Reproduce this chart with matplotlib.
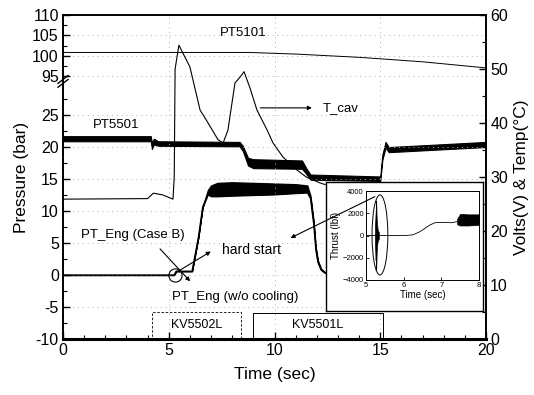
import numpy as np
import matplotlib.pyplot as plt
from matplotlib.patches import Ellipse

plt.rcParams['font.family'] = ['Liberation Sans', 'DejaVu Sans']

# ---- data ----
# PT5101 (left axis, upper part)
t_5101 = [0, 8.8, 11, 14, 17, 20]
p_5101 = [100.8, 100.8, 100.4, 99.6, 98.5, 97.0]

# PT5501 (left axis) - noisy band: lower / upper envelope
t_5501 = [0, 4.15, 4.2, 4.3, 4.5, 8.35, 8.5, 8.75, 9.0, 11.3, 11.5, 11.7, 15.0, 15.1, 15.25, 15.4, 16, 20]
lo_5501 = [20.9, 20.9, 19.7, 20.4, 20.2, 20.1, 19.4, 17.1, 16.7, 16.6, 15.8, 14.9, 14.7, 18.0, 19.9, 19.2, 19.3, 20.0]
hi_5501 = [21.7, 21.7, 20.7, 21.3, 20.9, 20.8, 20.2, 18.3, 18.1, 17.9, 16.7, 15.7, 15.4, 18.8, 20.8, 20.0, 20.1, 20.8]

# PT_Eng (left axis) - lower / upper envelope
t_eng = [0, 5.25, 5.35, 6.1, 6.4, 6.6, 6.85, 7.0, 7.3, 8.0, 9.0, 10.0, 11.0, 11.55, 11.7, 11.85, 11.95, 12.05, 12.2, 12.4]
lo_eng = [0, 0, 0.6, 0.6, 5.9, 10.6, 12.6, 12.3, 12.3, 12.4, 12.5, 12.6, 12.8, 12.9, 12.0, 8.0, 4.0, 2.0, 0.8, 0.3]
hi_eng = [0, 0, 0.6, 0.6, 5.9, 10.6, 13.3, 14.0, 14.4, 14.5, 14.4, 14.3, 14.2, 14.0, 12.4, 8.4, 4.4, 2.3, 1.0, 0.4]

# T_cav (right axis, deg C)
t_cav = [0, 4.0, 4.27, 4.7, 5.2, 5.26, 5.3, 5.48, 6.0, 6.48, 6.86, 7.33, 7.57, 7.8, 8.13, 8.37, 8.56,
         8.84, 9.17, 9.65, 9.93, 10.4, 11.06, 11.5, 12.15, 12.4]
T_cav = [25.9, 26.0, 27.0, 26.7, 25.9, 30.0, 50.0, 54.4, 50.4, 42.4, 40.0, 36.9, 36.3, 38.7, 47.4, 48.5, 49.5,
         46.5, 42.4, 38.7, 36.3, 33.7, 31.3, 30.0, 28.9, 28.6]

# valve signals (right axis, volts)
t_kv5502 = [0, 4.2, 4.2, 8.4, 8.4, 9.0]
v_kv5502 = [0, 0, 5.0, 5.0, 0, 0]
t_kv5501 = [8.0, 8.98, 8.98, 15.13, 15.13, 20]
v_kv5501 = [0, 0, 4.9, 4.9, 0, 0]

# inset: thrust (lbf)
t_thr = [5.0, 5.24, 5.6, 6.05, 6.25, 6.43, 6.7, 6.83, 7.0, 7.28, 7.42]
f_thr = [0, 0, 0, 0, 60, 340, 950, 1150, 1180, 1150, 1250]
t_spk = [5.24, 5.255, 5.265, 5.27, 5.28, 5.29, 5.31, 5.34]
lo_spk = [-900, -2200, -1600, -3100, -1900, -1000, -500, -300]
hi_spk = [900, 2000, 2600, 3150, 1800, 1100, 500, 300]
t_band = [7.42, 7.5, 7.7, 8.0]
lo_band = [1000, 900, 900, 950]
hi_band = [1500, 1950, 1900, 1900]

# broken left axis mapping
B = 30.0
U0 = 95.0
K = 4.07 / 6.4
C = 263 / 6.4 - 10
U = U0 - (C - B) / K


def fwd(y):
    y = np.asarray(y, float)
    return np.where(y <= B, y, np.where(y >= U, C + (y - U0) * K, B))


def inv(v):
    v = np.asarray(v, float)
    return np.where(v <= B, v, U0 + (v - C) / K)


fig = plt.figure(figsize=(5.34, 3.95), dpi=100)
ax = fig.add_axes([63 / 534, 56 / 395, 423 / 534, 324 / 395])
ax.set_yscale('function', functions=(fwd, inv))
ax.set_xlim(0, 20)
ax.set_ylim(-10, 110)

ax.plot(t_5101, p_5101, color='black', lw=0.7)
ax.fill_between(t_5501, lo_5501, hi_5501, color='black', lw=0.8)
ax.fill_between(t_eng, lo_eng, hi_eng, color='black', lw=0.9)
ax.plot(t_eng, lo_eng, color='black', lw=0.9)

ax2 = ax.twinx()
ax2.set_ylim(0, 60)
ax2.plot(t_cav, T_cav, color='black', lw=0.8)
ax2.plot(t_kv5502, v_kv5502, color='black', lw=0.6, ls=(0, (3, 2)))
ax2.plot(t_kv5501, v_kv5501, color='black', lw=0.7)

# ticks
yt = [-10, -5, 0, 5, 10, 15, 20, 25, 95, 100, 105, 110]
ax.set_yticks(yt)
ax.set_yticklabels([str(v) for v in yt])
ax.set_yticks([-7.5, -2.5, 2.5, 7.5, 12.5, 17.5, 22.5, 27.5, 97.5, 102.5, 107.5], minor=True)
ax.set_xticks([0, 5, 10, 15, 20])
ax.set_xticks(np.arange(0, 21, 1), minor=True)
ax2.set_yticks([0, 10, 20, 30, 40, 50, 60])
ax2.set_yticks(np.arange(5, 60, 10), minor=True)
for a in (ax, ax2):
    a.tick_params(which='major', direction='in', length=5, width=1, labelsize=11.5, pad=3)
    a.tick_params(which='minor', direction='in', length=3, width=0.8)
    for s in a.spines.values():
        s.set_linewidth(1.2)
ax.spines['bottom'].set_linewidth(2.2)
ax.grid(True, which='major', color='#b0b0b0', ls=(0, (1, 4)), lw=0.7)

ax.set_xlabel('Time (sec)', fontsize=12.5, labelpad=6)
ax.set_ylabel('Pressure (bar)', fontsize=12.5, labelpad=2)
ax2.set_ylabel('Volts(V) & Temp(°C)', fontsize=12.5, labelpad=4)

# axis break marks
for dy in (-0.006, 0.006):
    ax.plot([-0.012, 0.012], [0.795 + dy - 0.012, 0.795 + dy + 0.012], transform=ax.transAxes,
            color='black', lw=1.0, clip_on=False, zorder=5)

# labels
ax.text(8.5, 105.6, 'PT5101', fontsize=9.5, ha='center', va='center')
ax.text(2.5, 23.4, 'PT5501', fontsize=9.5, ha='center', va='center')
ax2.text(12.3, 42.8, 'T_cav', fontsize=9.5, ha='left', va='center')
ax2.annotate('', xy=(11.9, 42.8), xytext=(9.2, 42.8),
             arrowprops=dict(arrowstyle='-|>', color='black', lw=0.8, mutation_scale=6))
ax.text(3.3, 6.25, 'PT_Eng (Case B)', fontsize=9.5, ha='center', va='center')
ax.text(7.5, 3.9, 'hard start', fontsize=10, ha='left', va='center')
ax.text(8.13, -3.4, 'PT_Eng (w/o cooling)', fontsize=9.5, ha='center', va='center')
ax.text(6.33, -7.8, 'KV5502L', fontsize=9, ha='center', va='center')
ax.text(12.06, -7.8, 'KV5501L', fontsize=9, ha='center', va='center')
ax.annotate('', xy=(6.1, -1.3), xytext=(4.5, 4.4),
            arrowprops=dict(arrowstyle='-|>', color='black', lw=0.8, mutation_scale=6))
ax.annotate('', xy=(7.1, 3.9), xytext=(5.3, 0.3),
            arrowprops=dict(arrowstyle='-|>', color='black', lw=0.8, mutation_scale=6))
ax.plot([5.3], [0.0], marker='o', ms=9.5, mfc='none', mec='black', mew=0.8)

# inset frame and inset axes
box = fig.add_axes([326 / 534, 84 / 395, 157 / 534, 129 / 395])
box.set_xticks([])
box.set_yticks([])
for s in box.spines.values():
    s.set_linewidth(1.0)

axi = fig.add_axes([366 / 534, 115 / 395, 113 / 534, 89 / 395])
axi.set_xlim(5, 8)
axi.set_ylim(-4000, 4000)
axi.plot(t_thr, f_thr, color='black', lw=0.6)
axi.fill_between(t_spk, lo_spk, hi_spk, color='black', lw=0.5)
axi.fill_between(t_band, lo_band, hi_band, color='black', lw=0.5)
axi.set_xticks([5, 6, 7, 8])
axi.set_yticks([-4000, -2000, 0, 2000, 4000])
axi.tick_params(direction='in', length=2, width=0.6, labelsize=5.5, pad=1.5)
for s in axi.spines.values():
    s.set_linewidth(0.7)
axi.set_xlabel('Time (sec)', fontsize=7, labelpad=1)
axi.set_ylabel('Thrust (lbf)', fontsize=7, labelpad=1)
axi.add_patch(Ellipse((5.37, 50), 0.42, 7200, fill=False, color='black', lw=0.7))
axi.annotate('', xy=(10.64, 5.6), xycoords=ax.transData, xytext=(5.3, 3600), textcoords='data',
             arrowprops=dict(arrowstyle='-|>', color='black', lw=0.8, mutation_scale=6),
             annotation_clip=False)

fig.savefig('out.png', dpi=100)
